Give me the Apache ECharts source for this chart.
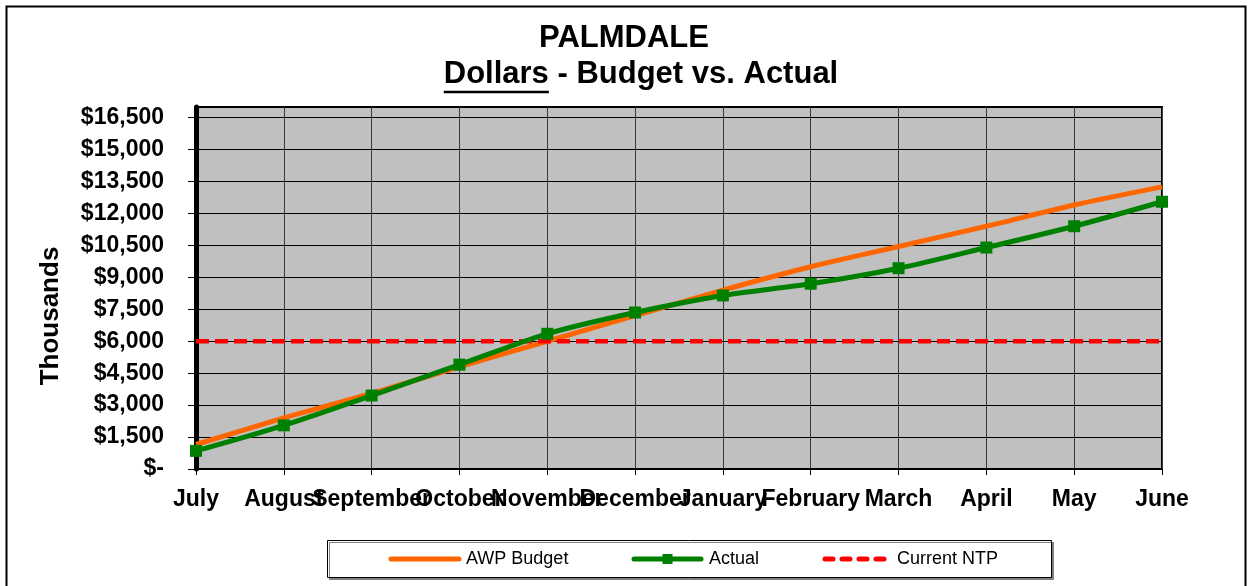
<!DOCTYPE html>
<html>
<head>
<meta charset="utf-8">
<script src="https://cdn.jsdelivr.net/npm/echarts@6/dist/echarts.min.js"></script>
<style>
html,body{margin:0;padding:0;background:#fff;}
#chart{width:1248px;height:586px;}
</style>
</head>
<body>
<div id="chart"></div>
<script>
// ---- data ----
const months = ['July','August','September','October','November','December','January','February','March','April','May','June'];
const awpBudget = [1150, 2400, 3550, 4800, 6000, 7200, 8400, 9500, 10450, 11400, 12400, 13250];
const actual = [850, 2050, 3450, 4900, 6350, 7350, 8150, 8700, 9430, 10400, 11400, 12550];
const currentNTP = [6000, 6000, 6000, 6000, 6000, 6000, 6000, 6000, 6000, 6000, 6000, 6000];
const seriesNames = ['AWP Budget', 'Actual', 'Current NTP'];
const titleLine1 = 'PALMDALE';
const titleUnderlined = 'Dollars';
const titleRest = ' - Budget vs. Actual';
const yAxisTitle = 'Thousands';

const FONT = '"Liberation Sans", Arial, sans-serif';
const COL_BUDGET = '#FF6600', COL_ACTUAL = '#008000', COL_NTP = '#FF0000';
const chart = echarts.init(document.getElementById('chart'));

// measure title text to place underline
const cv = document.createElement('canvas').getContext('2d');
cv.font = 'bold 31px ' + FONT;
const wU = cv.measureText(titleUnderlined).width;
const wAll = cv.measureText(titleUnderlined + titleRest).width;
const titleCX = 641;
const line2Left = titleCX - wAll / 2;

function fmt(v) {
  if (v === 0) return '$-';
  return '$' + v.toString().replace(/\B(?=(\d{3})+(?!\d))/g, ',');
}

// custom legend (icons drawn as graphics)
const LY = 559;
const legendGraphics = [
  { type: 'rect', z: 10, shape: { x: 327.5, y: 540.5, width: 724, height: 37 }, style: { fill: '#fff', stroke: '#000', lineWidth: 1, shadowColor: '#808080', shadowOffsetX: 2, shadowOffsetY: 2, shadowBlur: 0 } },
  { type: 'line', z: 11, shape: { x1: 391, y1: LY, x2: 459, y2: LY }, style: { stroke: COL_BUDGET, lineWidth: 5, lineCap: 'round' } },
  { type: 'text', z: 11, x: 466, y: LY, style: { text: seriesNames[0], font: '18px ' + FONT, fill: '#000', textVerticalAlign: 'middle' } },
  { type: 'line', z: 11, shape: { x1: 634, y1: LY, x2: 701, y2: LY }, style: { stroke: COL_ACTUAL, lineWidth: 5, lineCap: 'round' } },
  { type: 'rect', z: 12, shape: { x: 662.5, y: LY - 5, width: 10, height: 10 }, style: { fill: COL_ACTUAL } },
  { type: 'text', z: 11, x: 709, y: LY, style: { text: seriesNames[1], font: '18px ' + FONT, fill: '#000', textVerticalAlign: 'middle' } },
  { type: 'line', z: 11, shape: { x1: 825, y1: LY, x2: 892, y2: LY }, style: { stroke: COL_NTP, lineWidth: 5, lineCap: 'round', lineDash: [8, 9] } },
  { type: 'text', z: 11, x: 897, y: LY, style: { text: seriesNames[2], font: '18px ' + FONT, fill: '#000', textVerticalAlign: 'middle' } }
];

const option = {
  animation: false,
  backgroundColor: '#ffffff',
  textStyle: { fontFamily: FONT },
  grid: { left: 196, right: 86, top: 107, bottom: 117, show: true, backgroundColor: '#C0C0C0', borderColor: '#000', borderWidth: 2 },
  xAxis: {
    type: 'category',
    data: months,
    boundaryGap: false,
    axisLine: { show: true, lineStyle: { color: '#000', width: 2 } },
    axisTick: { show: true, length: 6, lineStyle: { color: '#000', width: 1 } },
    axisLabel: { color: '#000', fontWeight: 'bold', fontSize: 23, fontFamily: FONT, margin: 19, interval: 0, hideOverlap: false },
    splitLine: { show: true, lineStyle: { color: '#3a3a3a', width: 1 } }
  },
  yAxis: {
    type: 'value',
    min: 0,
    max: 17000,
    interval: 1500,
    axisLine: { show: true, lineStyle: { color: '#000', width: 5 } },
    axisTick: { show: true, length: 8, lineStyle: { color: '#000', width: 1 } },
    axisLabel: { color: '#000', fontWeight: 'bold', fontSize: 23, fontFamily: FONT, margin: 32, showMaxLabel: false, formatter: fmt },
    splitLine: { show: true, lineStyle: { color: '#000', width: 1 } }
  },
  series: [
    {
      name: seriesNames[0], type: 'line', data: awpBudget, z: 2,
      smooth: 0.25, symbol: 'none',
      lineStyle: { color: COL_BUDGET, width: 5 }, itemStyle: { color: COL_BUDGET }
    },
    {
      name: seriesNames[2], type: 'line', data: currentNTP, z: 3,
      symbol: 'none',
      lineStyle: { color: COL_NTP, width: 4.5, type: [13, 6] }, itemStyle: { color: COL_NTP }
    },
    {
      name: seriesNames[1], type: 'line', data: actual, z: 4,
      smooth: 0.3, symbol: 'rect', symbolSize: 12, showAllSymbol: true,
      lineStyle: { color: COL_ACTUAL, width: 5 }, itemStyle: { color: COL_ACTUAL }
    }
  ],
  graphic: [
    { type: 'rect', z: -10, shape: { x: 6.5, y: 6.5, width: 1239, height: 700 }, style: { fill: '#fff', stroke: '#000', lineWidth: 2 } },
    { type: 'text', left: 'center', top: 23, style: { text: titleLine1, font: 'bold 31px ' + FONT, fill: '#000' } },
    { type: 'text', x: line2Left, y: 74, style: { text: titleUnderlined + titleRest, font: 'bold 31px ' + FONT, fill: '#000', textVerticalAlign: 'middle' } },
    { type: 'line', shape: { x1: line2Left, y1: 92, x2: line2Left + wU, y2: 92 }, style: { stroke: '#000', lineWidth: 2.5 } },
    { type: 'text', x: 51, y: 316, rotation: Math.PI / 2, style: { text: yAxisTitle, font: 'bold 26px ' + FONT, fill: '#000', textAlign: 'center', textVerticalAlign: 'middle' } }
  ].concat(legendGraphics)
};
chart.setOption(option);
</script>
</body>
</html>
